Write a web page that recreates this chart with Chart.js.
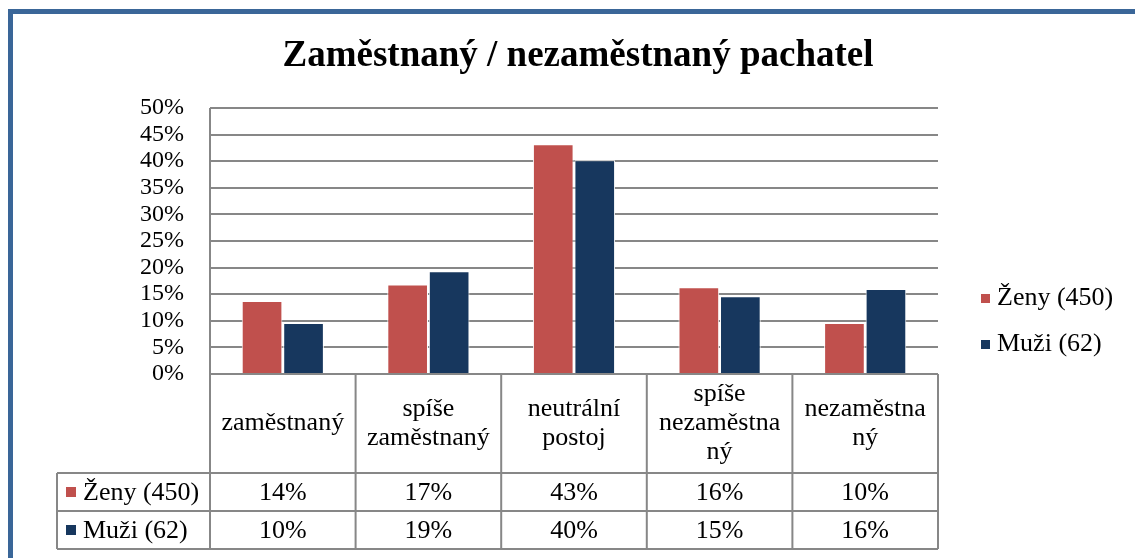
<!DOCTYPE html>
<html>
<head>
<meta charset="utf-8">
<script src="https://cdn.jsdelivr.net/npm/chart.js@4.4.1/dist/chart.umd.min.js"></script>
<style>
  body { margin: 0; background: #fff; }
  #wrap { position: relative; width: 1135px; height: 558px; }
  #frame {
    position: absolute; left: 8px; top: 9px; right: 0; bottom: 0;
    border-top: 5px solid #3a6698; border-left: 5px solid #3a6698;
    pointer-events: none;
  }
</style>
</head>
<body>
<div id="wrap"><canvas id="myChart"></canvas><div id="frame"></div></div>
<script>
// Chart data
const chartTitle = "Zaměstnaný / nezaměstnaný pachatel";
const categories = [
  ["zaměstnaný"],
  ["spíše", "zaměstnaný"],
  ["neutrální", "postoj"],
  ["spíše", "nezaměstna", "ný"],
  ["nezaměstna", "ný"]
];
const seriesNames = ["Ženy (450)", "Muži (62)"];
const zenyValues = [13.7, 16.8, 43.2, 16.3, 9.6];
const muziValues = [9.6, 19.3, 40.2, 14.6, 16.0];
const yTicks = [0, 5, 10, 15, 20, 25, 30, 35, 40, 45, 50];

const redColor = "#c0504d";
const navyColor = "#17375e";
const gridColor = "#878787";
const fontFamily = "'Liberation Serif', 'Times New Roman', serif";

const seriesValues = [zenyValues, muziValues];
const seriesColors = [redColor, navyColor];

// Draws title, right legend and the data table under the plot
const tablePlugin = {
  id: "dataTable",
  afterDraw(chart) {
    const ctx = chart.ctx;
    const area = chart.chartArea;
    const x = chart.scales.x;
    const step = x.getPixelForValue(1) - x.getPixelForValue(0);
    const edges = [];
    for (let i = 0; i <= categories.length; i++) {
      edges.push(x.getPixelForValue(0) - step / 2 + i * step);
    }
    const headBottom = area.bottom + 99;
    const rowH = 38;
    const tableLeft = 57;
    const tableBottom = headBottom + rowH * seriesNames.length;

    ctx.save();
    ctx.strokeStyle = gridColor;
    ctx.lineWidth = 2;
    ctx.beginPath();
    // left axis down through the table
    ctx.moveTo(area.left, area.top);
    ctx.lineTo(area.left, tableBottom);
    // column separators
    edges.slice(1).forEach(e => {
      ctx.moveTo(e, area.bottom);
      ctx.lineTo(e, tableBottom);
    });
    ctx.moveTo(tableLeft, headBottom);
    ctx.lineTo(tableLeft, tableBottom);
    for (let r = 0; r <= seriesNames.length; r++) {
      const y = headBottom + r * rowH;
      ctx.moveTo(tableLeft, y);
      ctx.lineTo(area.right, y);
    }
    ctx.stroke();

    ctx.fillStyle = "#000";
    ctx.textAlign = "center";
    ctx.textBaseline = "middle";
    ctx.font = "26px " + fontFamily;
    const lineH = 29;
    const headMid = (area.bottom + headBottom) / 2;
    categories.forEach((lines, i) => {
      const cx = (edges[i] + edges[i + 1]) / 2;
      const y0 = headMid - (lines.length - 1) * lineH / 2;
      lines.forEach((t, k) => ctx.fillText(t, cx, y0 + k * lineH));
    });

    seriesNames.forEach((name, r) => {
      const cy = headBottom + r * rowH + rowH / 2;
      ctx.fillStyle = seriesColors[r];
      ctx.fillRect(66, cy - 5, 10, 10);
      ctx.fillStyle = "#000";
      ctx.textAlign = "left";
      ctx.fillText(name, 83, cy + 1);
      ctx.textAlign = "center";
      seriesValues[r].forEach((v, i) => {
        const cx = (edges[i] + edges[i + 1]) / 2;
        ctx.fillText(Math.round(v) + "%", cx, cy + 1);
      });
    });

    // legend on the right
    seriesNames.forEach((name, r) => {
      const cy = 298 + r * 46;
      ctx.fillStyle = seriesColors[r];
      ctx.fillRect(981, cy - 4, 9, 9);
      ctx.fillStyle = "#000";
      ctx.textAlign = "left";
      ctx.fillText(name, 997, cy);
    });

    // title
    ctx.font = "bold 37px " + fontFamily;
    ctx.textAlign = "center";
    ctx.fillText(chartTitle, 578, 56);
    ctx.restore();
  }
};

const data = {
  labels: categories,
  datasets: seriesNames.map((name, r) => ({
    label: name,
    data: seriesValues[r],
    backgroundColor: seriesColors[r],
    borderColor: "#ffffff",
    borderWidth: 1,
    categoryPercentage: 0.57,
    barPercentage: 0.98
  }))
};

const config = {
  type: "bar",
  data: data,
  options: {
    responsive: true,
    maintainAspectRatio: false,
    animation: false,
    layout: { padding: { top: 108, right: 197, bottom: 184, left: 0 } },
    plugins: {
      legend: { display: false },
      title: { display: false },
      tooltip: { enabled: false }
    },
    scales: {
      x: { display: false },
      y: {
        min: 0,
        max: 50,
        afterFit: s => { s.width = 210; },
        afterBuildTicks: s => { s.ticks = yTicks.map(v => ({ value: v })); },
        border: { display: false },
        grid: { color: gridColor, lineWidth: 2, drawTicks: false },
        ticks: {
          autoSkip: false,
          padding: 26,
          color: "#000",
          font: { family: fontFamily, size: 24 },
          callback: v => v + "%"
        }
      }
    }
  },
  plugins: [tablePlugin]
};

const myChart = new Chart(document.getElementById("myChart"), config);
</script>
</body>
</html>
